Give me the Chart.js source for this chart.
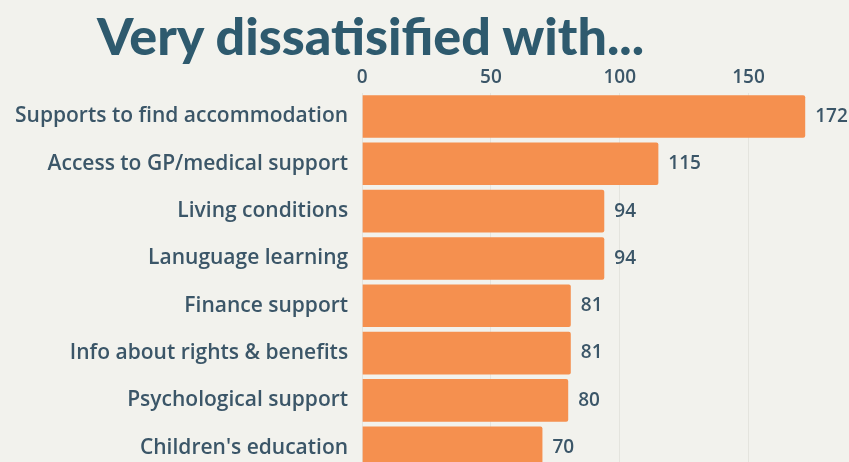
<!DOCTYPE html>
<html lang="en">
<head>
    <meta charset="UTF-8">
    <title>Very dissatisified with...</title>
    <script src="https://cdn.jsdelivr.net/npm/chart.js"></script>
    <style>

body {
    margin: 0;
    padding: 0;
    background: #f2f2ed;
    width: 849px;
    height: 462px;
    overflow: hidden;
    position: relative;
}

h1 {
    position: absolute;
    left: 97px;
    top: 4px;
    margin: 0;
    font-family: 'Lato', sans-serif;
    font-weight: 900;
    font-size: 52px;
    line-height: 1.2;
    color: #2e5a6e;
    white-space: nowrap;
}

#barChart {
    position: absolute;
    left: 0;
    top: 0;
}

    </style>
</head>
<body>
    <h1>Very dissatisified with...</h1>
    <canvas id="barChart" width="849" height="498"></canvas>
    <script>
        const categories = [
            'Supports to find accommodation',
            'Access to GP/medical support',
            'Living conditions',
            'Lanuguage learning',
            'Finance support',
            'Info about rights & benefits',
            'Psychological support',
            "Children's education"
        ];
        const counts = [172, 115, 94, 94, 81, 81, 80, 70];
        const xTicks = [0, 50, 100, 150];

        const textColor = '#3b5668';
        const labelFont = { family: 'Open Sans', size: 21, weight: '600' };

        // writes the value just past the end of each bar
        const valueLabels = {
            id: 'valueLabels',
            afterDatasetsDraw(chart) {
                const c = chart.ctx;
                const meta = chart.getDatasetMeta(0);
                c.save();
                c.font = '600 19px "Open Sans"';
                c.fillStyle = textColor;
                c.textBaseline = 'middle';
                meta.data.forEach((bar, i) => {
                    c.fillText(counts[i], bar.x + 10, bar.y);
                });
                c.restore();
            }
        };

        const ctx = document.getElementById('barChart').getContext('2d');

        new Chart(ctx, {
            type: 'bar',
            data: {
                labels: categories,
                datasets: [{
                    data: counts,
                    backgroundColor: '#f5904f',
                    borderRadius: 2,
                    categoryPercentage: 0.9,
                    barPercentage: 1
                }]
            },
            options: {
                indexAxis: 'y',
                responsive: false,
                animation: false,
                layout: {
                    padding: { left: 1, top: 62, right: 0, bottom: 0 }
                },
                plugins: {
                    legend: { display: false },
                    tooltip: { enabled: false }
                },
                scales: {
                    x: {
                        position: 'top',
                        min: 0,
                        max: 189,
                        afterBuildTicks: (axis) => {
                            axis.ticks = xTicks.map(v => ({ value: v }));
                        },
                        ticks: {
                            color: textColor,
                            padding: 4,
                            font: { family: 'Open Sans', size: 19, weight: '600' }
                        },
                        grid: {
                            color: '#e4e4de',
                            drawTicks: false
                        },
                        border: { display: false }
                    },
                    y: {
                        ticks: {
                            color: textColor,
                            padding: 14,
                            font: labelFont
                        },
                        grid: { display: false, drawTicks: false },
                        border: { display: false }
                    }
                }
            },
            plugins: [valueLabels]
        });
    </script>
</body>
</html>
